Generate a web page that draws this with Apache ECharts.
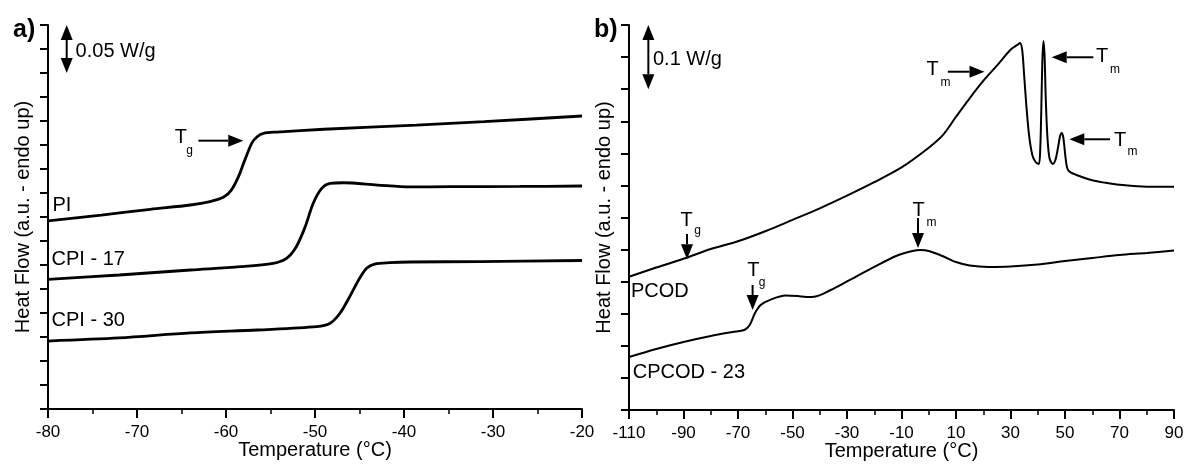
<!DOCTYPE html>
<html><head><meta charset="utf-8">
<script src="https://cdn.jsdelivr.net/npm/echarts@6/dist/echarts.min.js"></script>
<style>html,body{margin:0;padding:0;background:#fff}#c{width:1186px;height:465px}</style>
</head><body><div id="c"></div>
<script>
const FONT = '"Liberation Sans", Arial, Helvetica, sans-serif';

// ---- Panel a) data: Temperature (°C), Heat flow (W/g, arbitrary offset)
const PI_CURVE = [[-80,0.196],[-74,0.202],[-68.5,0.208],[-64,0.2125],[-61.8,0.216],[-60.3,0.2205],[-59.4,0.228],[-58.6,0.242],[-57.9,0.259],[-57.1,0.277],[-56.5,0.2836],[-55.8,0.2872],[-54.3,0.2885],[-49,0.2914],[-38.6,0.2958],[-31,0.2993],[-20,0.3052]];
const CPI17_CURVE = [[-80,0.1351],[-72,0.1396],[-64,0.1448],[-58.4,0.1482],[-54.7,0.1518],[-53.2,0.157],[-52.1,0.1691],[-51.1,0.1899],[-50.2,0.2143],[-49.25,0.2299],[-48.3,0.2351],[-46.8,0.2357],[-43,0.2333],[-39.3,0.2313],[-34.8,0.2316],[-27,0.2318],[-20,0.2323]];
const CPI30_CURVE = [[-80,0.0708],[-72,0.074],[-64,0.0792],[-56.5,0.0823],[-49.8,0.0857],[-48.3,0.0893],[-47.2,0.0997],[-46.1,0.117],[-45.1,0.1344],[-44.2,0.1466],[-43.3,0.151],[-41.6,0.1524],[-39.3,0.1531],[-31.5,0.1536],[-20,0.1547]];

// ---- Panel b) data
const PCOD_CURVE = [[-110,0.2077],[-100,0.222],[-89.5,0.2364],[-80,0.2509],[-70,0.2629],[-60,0.2785],[-50,0.2963],[-40,0.3143],[-30,0.334],[-20,0.355],[-10,0.378],[0,0.4088],[5,0.4275],[10,0.457],[15,0.4858],[20,0.5128],[25,0.5366],[30,0.5615],[32.5,0.569],[33.5,0.572],[34.3,0.561],[35,0.522],[35.8,0.4753],[36.8,0.4286],[38,0.3974],[39.2,0.3865],[40.4,0.3834],[40.9,0.4052],[41.3,0.4675],[41.7,0.5454],[42.1,0.575],[42.5,0.553],[42.9,0.491],[43.5,0.4286],[44.3,0.3927],[45.5,0.3834],[46.5,0.39],[47.4,0.4083],[48.2,0.427],[48.8,0.4318],[49.4,0.424],[50.1,0.397],[50.8,0.377],[51.8,0.371],[55,0.365],[60,0.358],[65,0.354],[70,0.351],[80,0.348],[90,0.348]];
const CPCOD23_CURVE = [[-110,0.0826],[-100,0.0951],[-90,0.106],[-80,0.1153],[-72,0.1216],[-67.7,0.1247],[-65.7,0.1325],[-63.8,0.1507],[-61.7,0.1636],[-57.8,0.1725],[-52.5,0.1784],[-48,0.1775],[-45,0.1762],[-42,0.1766],[-36,0.187],[-30,0.2003],[-20,0.2229],[-12,0.24],[-6,0.2478],[-3,0.2493],[0,0.2478],[5,0.24],[10,0.2306],[15,0.2252],[22,0.2229],[30,0.2236],[40,0.2267],[50,0.2322],[60,0.2369],[70,0.2415],[80,0.2447],[90,0.2486]];

// axis ranges / ticks
const X_A = [-80, -20, 10];
const X_B = [-110, 90, 20];
const Y_A = [0, 0.4, 0.025];
const Y_B = [0, 0.6, 0.05];

// Annotations (data coordinates): [panel, xTail, yTail, xTip, yTip, doubleHeaded]
const ARROWS = [
  [0, -77.9, 0.375, -77.9, 0.4, true],
  [0, -63.1, 0.2795, -58.06, 0.2795, false],
  [1, -102.9, 0.55, -102.9, 0.6, true],
  [1, -88.72, 0.2743, -88.72, 0.2349, false],
  [1, -64.64, 0.1948, -64.64, 0.1558, false],
  [1, -3.94, 0.2992, -3.94, 0.2525, false],
  [1, 6.99, 0.5272, 20.46, 0.5272, false],
  [1, 60.39, 0.5497, 45.12, 0.5497, false],
  [1, 66.51, 0.4219, 51.58, 0.4219, false]
];
// Texts: [panel, x, y, text, fontSize, align]
const TEXTS = [
  [0, -76.9, 0.3722, '0.05 W/g', 20, 'left'],
  [0, -65.06, 0.2828, 'T', 20, 'center'],
  [0, -64.08, 0.2695, 'g', 12, 'center'],
  [0, -79.5, 0.2125, 'PI', 20, 'left'],
  [0, -79.6, 0.1557, 'CPI - 17', 20, 'left'],
  [0, -79.6, 0.0919, 'CPI - 30', 20, 'left'],
  [1, -101.2, 0.5455, '0.1 W/g', 20, 'left'],
  [1, -109.3, 0.1847, 'PCOD', 20, 'left'],
  [1, -108.6, 0.0592, 'CPCOD - 23', 20, 'left'],
  [1, -88.9, 0.2961, 'T', 20, 'center'],
  [1, -84.86, 0.279, 'g', 12, 'center'],
  [1, -64.35, 0.2182, 'T', 20, 'center'],
  [1, -61.19, 0.1987, 'g', 12, 'center'],
  [1, -3.76, 0.3117, 'T', 20, 'center'],
  [1, 1.01, 0.2922, 'm', 12, 'center'],
  [1, 1.38, 0.5299, 'T', 20, 'center'],
  [1, 6.11, 0.5096, 'm', 12, 'center'],
  [1, 63.58, 0.5506, 'T', 20, 'center'],
  [1, 68.35, 0.5306, 'm', 12, 'center'],
  [1, 70.18, 0.4208, 'T', 20, 'center'],
  [1, 74.77, 0.4032, 'm', 12, 'center']
];
const PANEL_TAGS = ['a)', 'b)'];

const chart = echarts.init(document.getElementById('c'));

function xAx(i, r) {
  return {
    type: 'value', gridIndex: i, min: r[0], max: r[1], interval: r[2],
    axisLine: { show: true, onZero: false, lineStyle: { color: '#000', width: 2 } },
    axisTick: { show: true, length: 9, lineStyle: { color: '#000', width: 2 } },
    minorTick: { show: true, splitNumber: 2, length: 5, lineStyle: { color: '#000', width: 1.5 } },
    splitLine: { show: false },
    axisLabel: { color: '#000', fontSize: 17, fontFamily: FONT, margin: 15, showMinLabel: true, showMaxLabel: true },
    name: 'Temperature (°C)', nameLocation: 'middle', nameGap: 31, nameMoveOverlap: false,
    nameTextStyle: { color: '#000', fontSize: 20, fontFamily: FONT }
  };
}
function yAx(i, r) {
  return {
    type: 'value', gridIndex: i, min: r[0], max: r[1], interval: r[2],
    axisLine: { show: true, onZero: false, lineStyle: { color: '#000', width: 2 } },
    axisTick: { show: true, length: 8, lineStyle: { color: '#000', width: 2 } },
    axisLabel: { show: false }, splitLine: { show: false },
    name: 'Heat Flow (a.u. - endo up)', nameLocation: 'middle', nameGap: 15, nameMoveOverlap: false,
    nameTextStyle: { color: '#000', fontSize: 20, fontFamily: FONT }
  };
}
function line(i, data, w) {
  return { type: 'line', xAxisIndex: i, yAxisIndex: i, data: data, showSymbol: false, smooth: 0.3,
    lineStyle: { color: '#000', width: w }, silent: true, animation: false };
}

chart.setOption({
  animation: false,
  backgroundColor: '#fff',
  grid: [
    { left: 48, top: 25, width: 534, height: 384, outerBoundsMode: 'none', containLabel: false },
    { left: 629, top: 25, width: 545, height: 385, outerBoundsMode: 'none', containLabel: false }
  ],
  xAxis: [xAx(0, X_A), xAx(1, X_B)],
  yAxis: [yAx(0, Y_A), yAx(1, Y_B)],
  series: [
    line(0, PI_CURVE, 2.8), line(0, CPI17_CURVE, 2.8), line(0, CPI30_CURVE, 2.8),
    line(1, PCOD_CURVE, 2), line(1, CPCOD23_CURVE, 2)
  ]
});

function px(p, x, y) { return chart.convertToPixel({ xAxisIndex: p, yAxisIndex: p }, [x, y]); }
const els = [];
function head(tip, from, L, W) {
  const dx = tip[0] - from[0], dy = tip[1] - from[1];
  const len = Math.hypot(dx, dy); const ux = dx / len, uy = dy / len;
  const bx = tip[0] - ux * L, by = tip[1] - uy * L;
  els.push({ type: 'polygon', shape: { points: [tip, [bx - uy * W, by + ux * W], [bx + uy * W, by - ux * W]] }, style: { fill: '#000' } });
  return [bx, by];
}
ARROWS.forEach(a => {
  const t = px(a[0], a[1], a[2]), h = px(a[0], a[3], a[4]);
  const L = 15, W = 6;
  if (a[5]) {
    const o = [2 * t[0] - h[0], 2 * t[1] - h[1]];
    const b1 = head(h, o, L, W), b2 = head(o, h, L, W);
    els.push({ type: 'line', shape: { x1: b1[0], y1: b1[1], x2: b2[0], y2: b2[1] }, style: { stroke: '#000', lineWidth: 2 } });
  } else {
    const b = head(h, t, L, W);
    els.push({ type: 'line', shape: { x1: t[0], y1: t[1], x2: b[0], y2: b[1] }, style: { stroke: '#000', lineWidth: 2 } });
  }
});
TEXTS.forEach(s => {
  const p = px(s[0], s[1], s[2]);
  els.push({ type: 'text', x: p[0], y: p[1], style: { text: s[3], font: s[4] + 'px ' + FONT, fill: '#000',
    align: s[5], verticalAlign: 'middle', textAlign: s[5], textVerticalAlign: 'middle' } });
});
PANEL_TAGS.forEach((tg, i) => {
  const p = px(i, i === 0 ? X_A[0] : X_B[0], (i === 0 ? Y_A : Y_B)[1]);
  els.push({ type: 'text', x: p[0] - 35, y: p[1] + 5, style: { text: tg, font: 'bold 25px ' + FONT, fill: '#000',
    align: 'left', verticalAlign: 'middle', textAlign: 'left', textVerticalAlign: 'middle' } });
});
chart.setOption({ graphic: { elements: els } });
</script></body></html>
